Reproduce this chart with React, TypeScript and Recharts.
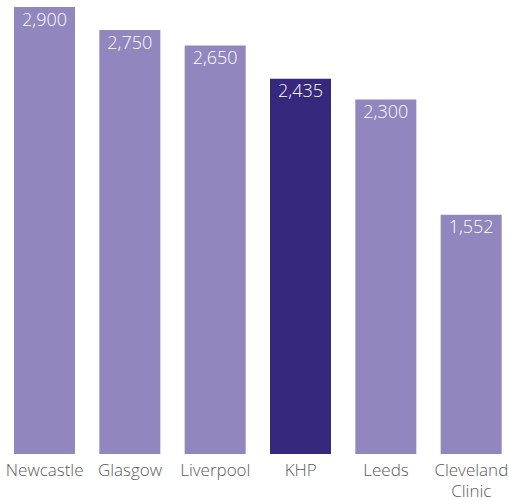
import React from "react";
import { BarChart, Bar, XAxis, YAxis, Cell, LabelList } from "recharts";

const categories = ["Newcastle", "Glasgow", "Liverpool", "KHP", "Leeds", "Cleveland Clinic"];
const values = [2900, 2750, 2650, 2435, 2300, 1552];
const highlighted = "KHP";

const data = categories.map((name, i) => ({ name, value: values[i] }));

const LIGHT = "#9186bd";
const DARK = "#36287c";
const FONT = "'Open Sans', 'Noto Sans', sans-serif";

const ValueLabel = (props: any) => {
    const { x, y, width, value } = props;
    return (
        <text
            x={x + width / 2}
            y={y + 18.5}
            textAnchor="middle"
            fill="#ffffff"
            fontSize={18}
            fontWeight={300}
            fontFamily={FONT}
        >
            {Number(value).toLocaleString("en-US")}
        </text>
    );
};

const CategoryTick = (props: any) => {
    const { x, y, payload } = props;
    const lines = String(payload.value).split(" ");
    return (
        <text x={x} y={y} textAnchor="middle" fill="#5a5a5a" fontSize={17} fontWeight={300} fontFamily={FONT}>
            {lines.map((line, i) => (
                <tspan key={i} x={x} y={y + 21.5 + i * 21}>
                    {line}
                </tspan>
            ))}
        </text>
    );
};

const App: React.FC = () => {
    return (
        <div style={{ position: "absolute", left: 0, top: 0, width: 509, height: 501, overflow: "hidden" }}>
            <BarChart width={520} height={501} data={data} margin={{ top: 7, right: 6, left: 2, bottom: 0 }}>
                <XAxis
                    dataKey="name"
                    axisLine={false}
                    tickLine={false}
                    tickSize={0}
                    tickMargin={0}
                    height={47}
                    interval={0}
                    tick={<CategoryTick />}
                />
                <YAxis hide domain={[0, 2900]} />
                <Bar dataKey="value" barSize={61} isAnimationActive={false}>
                    {data.map((entry, index) => (
                        <Cell key={`cell-${index}`} fill={entry.name === highlighted ? DARK : LIGHT} stroke="none" />
                    ))}
                    <LabelList dataKey="value" content={<ValueLabel />} />
                </Bar>
            </BarChart>
        </div>
    );
};

export default App;
